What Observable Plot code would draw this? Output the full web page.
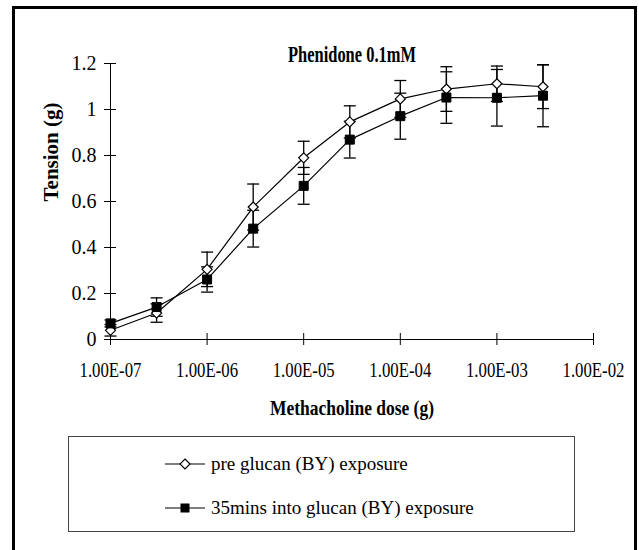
<!DOCTYPE html>
<html><head><meta charset="utf-8">
<script src="https://cdn.jsdelivr.net/npm/d3@7"></script>
<script src="https://cdn.jsdelivr.net/npm/@observablehq/plot@0.6"></script>
<style>
body{margin:0;background:#fff;}
#wrap{position:relative;width:639px;height:550px;overflow:hidden;font-family:"Liberation Serif","Times New Roman",serif;color:#000;}
#border{position:absolute;left:12px;top:6px;width:619px;height:570px;border:3px solid #000;}
#chart{position:absolute;left:0;top:0;}
#legend{position:absolute;left:68px;top:436px;width:507px;height:96px;box-sizing:border-box;border:1px solid #444;}
.entry{position:absolute;left:96px;height:24px;display:flex;align-items:center;font-size:19px;white-space:nowrap;}
.entry svg{margin-right:6px;}
</style></head>
<body>
<div id="wrap">
  <div id="border"></div>
  <div id="chart"></div>
  <div id="legend"></div>
</div>
<script>
const doses   = [1e-7, 3e-7, 1e-6, 3e-6, 1e-5, 3e-5, 1e-4, 3e-4, 1e-3, 3e-3];
const pre     = [0.04, 0.115, 0.305, 0.576, 0.79, 0.946, 1.046, 1.089, 1.112, 1.099];
const preErr  = [0.025, 0.04, 0.075, 0.10, 0.072, 0.07, 0.08, 0.097, 0.077, 0.095];
const post    = [0.07, 0.141, 0.261, 0.482, 0.668, 0.869, 0.971, 1.052, 1.051, 1.06];
const postErr = [0.015, 0.04, 0.055, 0.08, 0.08, 0.08, 0.10, 0.112, 0.123, 0.135];
const seriesNames = ["pre glucan (BY) exposure", "35mins into glucan (BY) exposure"];
const xTicks = [1e-7, 1e-6, 1e-5, 1e-4, 1e-3, 1e-2];
const xTickLabels = ["1.00E-07", "1.00E-06", "1.00E-05", "1.00E-04", "1.00E-03", "1.00E-02"];
const yTicks = [0, 0.2, 0.4, 0.6, 0.8, 1, 1.2];
const yTickLabels = ["0", "0.2", "0.4", "0.6", "0.8", "1", "1.2"];
const titleText = "Phenidone 0.1mM";
const xLabel = "Methacholine dose (g)";
const yLabel = "Tension (g)";

const rows = (vals, errs) => doses.map((d, i) => ({dose: d, v: vals[i], lo: vals[i] - errs[i], hi: vals[i] + errs[i]}));
const preRows = rows(pre, preErr);
const postRows = rows(post, postErr);

const rad = size => Math.sqrt(size / Math.PI);
const capSym = {draw(c, s) { const r = rad(s); c.moveTo(-r, 0); c.lineTo(r, 0); }};
const diamondSym = {draw(c, s) { const r = rad(s); c.moveTo(0, -r); c.lineTo(r, 0); c.lineTo(0, r); c.lineTo(-r, 0); c.closePath(); }};
const squareSym = {draw(c, s) { const r = rad(s); c.rect(-r, -r, 2 * r, 2 * r); }};

const errMarks = rs => [
  Plot.ruleX(rs, {x: "dose", y1: "lo", y2: "hi", stroke: "black", strokeWidth: 1.3}),
  Plot.dot(rs, {x: "dose", y: "lo", symbol: capSym, r: 6, stroke: "black", strokeWidth: 1.3}),
  Plot.dot(rs, {x: "dose", y: "hi", symbol: capSym, r: 6, stroke: "black", strokeWidth: 1.3})
];

const font = '"Liberation Serif","Times New Roman",serif';
const chart = Plot.plot({
  width: 639, height: 440,
  marginLeft: 110, marginRight: 46, marginTop: 63, marginBottom: 101,
  style: {fontFamily: font, fontSize: "19px", background: "transparent", color: "#000", overflow: "visible"},
  x: {type: "log", domain: [1e-7, 1e-2]},
  y: {domain: [0, 1.2]},
  marks: [
    Plot.ruleX([xTicks[0]], {stroke: "black"}),
    Plot.ruleY([0], {stroke: "black"}),
    Plot.axisX(xTicks, {tickSize: 12, dy: -6, fill: "none", label: null}),
    Plot.axisX(xTicks, {tickSize: 0, tickPadding: 23, stroke: "none", label: null, fontSize: 20, tickFormat: d => xTickLabels[xTicks.indexOf(d)]}),
    Plot.axisY(yTicks, {tickSize: 12, dx: 6, fill: "none", label: null}),
    Plot.axisY(yTicks, {tickSize: 0, tickPadding: 14, stroke: "none", label: null, fontSize: 20, tickFormat: d => yTickLabels[yTicks.indexOf(d)]}),
    Plot.line(preRows, {x: "dose", y: "v", stroke: "black", strokeWidth: 1.2}),
    Plot.line(postRows, {x: "dose", y: "v", stroke: "black", strokeWidth: 1.2}),
    ...errMarks(preRows),
    ...errMarks(postRows),
    Plot.dot(preRows, {x: "dose", y: "v", symbol: diamondSym, r: 5, fill: "white", stroke: "black", strokeWidth: 1.2}),
    Plot.dot(postRows, {x: "dose", y: "v", symbol: squareSym, r: 4.5, fill: "black", stroke: "black", strokeWidth: 1}),
    Plot.text([titleText], {text: d => d, frameAnchor: "top", dy: -19, fontWeight: "bold", fontSize: 24}),
    Plot.text([xLabel], {text: d => d, frameAnchor: "bottom", dy: 75, fontWeight: "bold", fontSize: 21}),
    Plot.text([yLabel], {text: d => d, frameAnchor: "left", dx: -59, rotate: -90, fontWeight: "bold", fontSize: 21})
  ]
});
document.getElementById("chart").appendChild(chart);

// Condense the text like the original Times rendering
const condense = {[titleText]: 128, [xLabel]: 164};
xTickLabels.forEach(t => condense[t] = 62);
chart.querySelectorAll("text").forEach(el => {
  const w = condense[el.textContent];
  if (w) { el.setAttribute("textLength", w); el.setAttribute("lengthAdjust", "spacingAndGlyphs"); }
});

// Legend
const legend = document.getElementById("legend");
const legendSym = (kind) => {
  const ns = "http://www.w3.org/2000/svg";
  const svg = document.createElementNS(ns, "svg");
  svg.setAttribute("width", 40); svg.setAttribute("height", 14);
  const line = document.createElementNS(ns, "line");
  line.setAttribute("x1", 0); line.setAttribute("x2", 40); line.setAttribute("y1", 7); line.setAttribute("y2", 7);
  line.setAttribute("stroke", "black"); line.setAttribute("stroke-width", 1.2);
  svg.appendChild(line);
  if (kind === 0) {
    const p = document.createElementNS(ns, "path");
    p.setAttribute("d", "M20,2L25,7L20,12L15,7Z");
    p.setAttribute("fill", "white"); p.setAttribute("stroke", "black"); p.setAttribute("stroke-width", 1.2);
    svg.appendChild(p);
  } else {
    const r = document.createElementNS(ns, "rect");
    r.setAttribute("x", 15.5); r.setAttribute("y", 2.5); r.setAttribute("width", 9); r.setAttribute("height", 9);
    r.setAttribute("fill", "black");
    svg.appendChild(r);
  }
  return svg;
};
const entryTops = [15, 59];
seriesNames.forEach((name, i) => {
  const e = document.createElement("div");
  e.className = "entry";
  e.style.top = entryTops[i] + "px";
  e.appendChild(legendSym(i));
  const t = document.createElement("span");
  t.textContent = name;
  e.appendChild(t);
  legend.appendChild(e);
});
</script>
</body></html>
